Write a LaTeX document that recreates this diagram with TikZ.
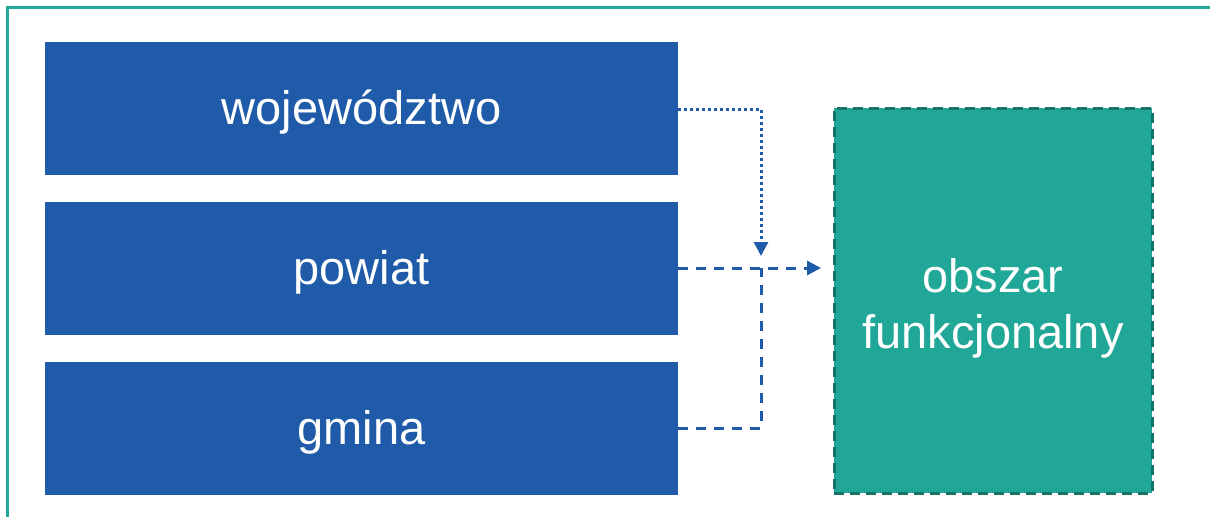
\documentclass[tikz,border=0pt]{standalone}
\usepackage{fontspec}
\setmainfont{Liberation Sans}
\usetikzlibrary{arrows.meta}
\definecolor{boxblue}{HTML}{1F5BA8}
\definecolor{tealfill}{HTML}{21A797}
\definecolor{tealdark}{HTML}{15736A}
\definecolor{frameteal}{HTML}{22A999}
\tikzset{
  level/.style={fill=boxblue, draw=none, minimum width=633pt, minimum height=133pt, inner sep=0pt, text=white, text height=40pt, text depth=8pt, font=\fontsize{47}{56}\selectfont},
  area/.style={fill=tealfill, draw=tealdark, line width=3pt, dash pattern=on 10pt off 6pt, minimum width=318pt, minimum height=385pt, inner sep=0pt},
  areatext/.style={text=white, align=center, inner sep=0pt, font=\fontsize{47}{56}\selectfont},
  conn/.style={draw=boxblue, line width=3pt},
  dashconn/.style={conn, dash pattern=on 10pt off 8pt},
  dotconn/.style={conn, line width=3pt, dash pattern=on 3pt off 3pt},
  tip/.style={-{Triangle[length=14pt,width=14pt]}}
}
\begin{document}
\begin{tikzpicture}[x=1pt,y=-1pt]
\useasboundingbox (0,0) rectangle (1210,517);
\draw[frameteal, line width=3pt] (7,517) -- (7,7.5) -- (1210,7.5);
\node[level] (w) at (361.5,108.5) {województwo};
\node[level] (p) at (361.5,268.5) {powiat};
\node[level] (g) at (361.5,428.5) {gmina};
\node[area] (o) at (993,300.5) {};
\node[areatext] (ot) at ([yshift=-8pt]o.center) {obszar\\funkcjonalny};
\coordinate (j) at (761,268);
\coordinate (tp) at (821,268);
\draw[dotconn, tip] (w.east |- 0,109) -| (761,256);
\draw[dashconn, tip] (p.east |- j) -- (tp);
\draw[dashconn] (g.east |- 0,428) -| (j);
\end{tikzpicture}
\end{document}
